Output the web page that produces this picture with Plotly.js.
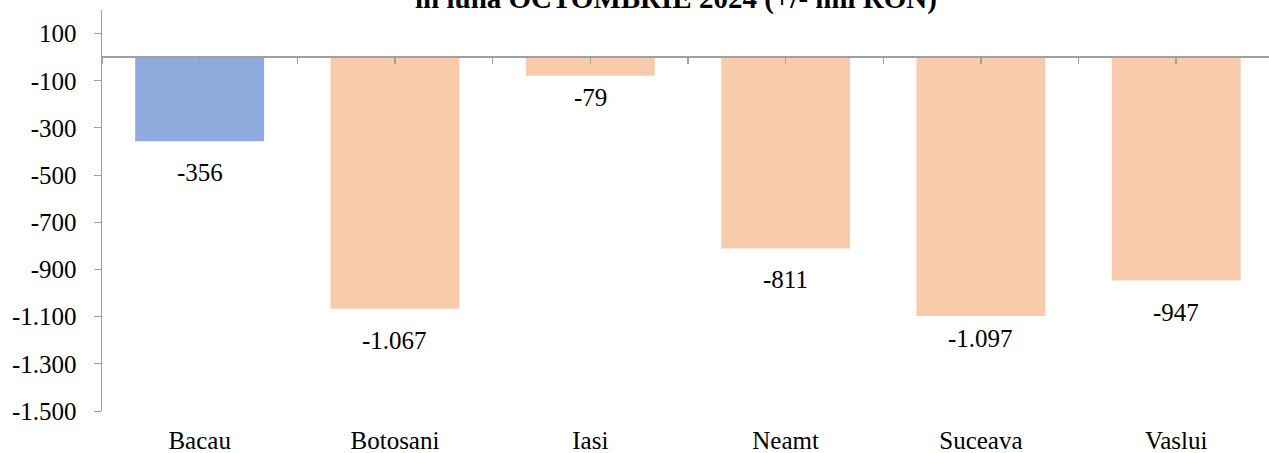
<!DOCTYPE html>
<html>
<head>
<meta charset="utf-8">
<script src="https://cdn.plot.ly/plotly-3.0.1.min.js"></script>
<style>
  html, body { margin: 0; padding: 0; background: #fff; }
  #plot { width: 1269px; height: 453px; }
</style>
</head>
<body>
<div id="plot"></div>
<script>
const categories = ['Bacau', 'Botosani', 'Iasi', 'Neamt', 'Suceava', 'Vaslui'];
const values = [-356, -1067, -79, -811, -1097, -947];
const barColors = ['#8FAADC', '#F8CBAD', '#F8CBAD', '#F8CBAD', '#F8CBAD', '#F8CBAD'];
const yTicks = [100, -100, -300, -500, -700, -900, -1100, -1300, -1500];
const yRange = [-1500, 200];

// excel style: hyphen minus, dot as thousands separator
function fmt(v) {
  const s = Math.abs(v).toString().replace(/\B(?=(\d{3})+(?!\d))/g, '.');
  return (v < 0 ? '-' : '') + s;
}

const idx = categories.map((c, i) => i);
const xRange = [-0.5, categories.length - 0.525];
const halfTicks = [];
for (let i = 0; i <= categories.length * 2; i++) halfTicks.push(i / 2 - 0.5);

const family = 'Times New Roman, Liberation Serif, DejaVu Serif, serif';
const font = { family: family, size: 25, color: '#000' };
const gray = '#A0A0A0';

const bars = {
  type: 'bar',
  x: idx,
  y: values,
  marker: { color: barColors },
  width: 0.66,
  hoverinfo: 'skip'
};

// carrier for the axis that sits on zero
const zeroAxis = {
  type: 'scatter',
  x: [0],
  y: [0],
  xaxis: 'x2',
  mode: 'markers',
  marker: { opacity: 0 },
  hoverinfo: 'skip',
  showlegend: false
};

// value labels sit below the bar end; a couple were pulled up in the original
const labelGap = [16, 16, 6, 16, 7, 16];
const labels = values.map((v, i) => ({
  x: idx[i],
  y: v,
  xref: 'x',
  yref: 'y',
  text: fmt(v),
  showarrow: false,
  yanchor: 'top',
  yshift: -labelGap[i],
  font: font
}));

Plotly.newPlot('plot', [bars, zeroAxis], {
  width: 1269,
  height: 453,
  margin: { l: 102, r: 0, t: 10, b: 42 },
  paper_bgcolor: '#fff',
  plot_bgcolor: '#fff',
  font: font,
  showlegend: false,
  annotations: labels,
  title: {
    text: '<b>in luna OCTOMBRIE 2024 (+/- mil RON)</b>',
    font: { family: family, size: 29, color: '#000' },
    x: 676 / 1269,
    xanchor: 'center',
    y: 1 - 8 / 453,
    yanchor: 'bottom'
  },
  xaxis: {
    range: xRange,
    tickmode: 'array',
    tickvals: idx,
    ticktext: categories,
    ticks: '',
    ticklabelstandoff: 12,
    showline: false,
    showgrid: false,
    zeroline: false,
    fixedrange: true
  },
  xaxis2: {
    overlaying: 'x',
    anchor: 'free',
    position: (0 - yRange[0]) / (yRange[1] - yRange[0]),
    range: xRange,
    tickmode: 'array',
    tickvals: halfTicks,
    ticks: 'outside',
    ticklen: 6,
    tickwidth: 1.5,
    tickcolor: gray,
    showticklabels: false,
    showline: true,
    linecolor: gray,
    linewidth: 2,
    showgrid: false,
    zeroline: false
  },
  yaxis: {
    range: yRange,
    tickmode: 'array',
    tickvals: yTicks,
    ticktext: yTicks.map(fmt),
    ticks: 'outside',
    ticklen: 7,
    tickcolor: gray,
    ticklabelstandoff: 12,
    showline: true,
    linecolor: gray,
    linewidth: 1.5,
    showgrid: false,
    zeroline: false,
    fixedrange: true
  }
}, { displayModeBar: false, staticPlot: true });
</script>
</body>
</html>
